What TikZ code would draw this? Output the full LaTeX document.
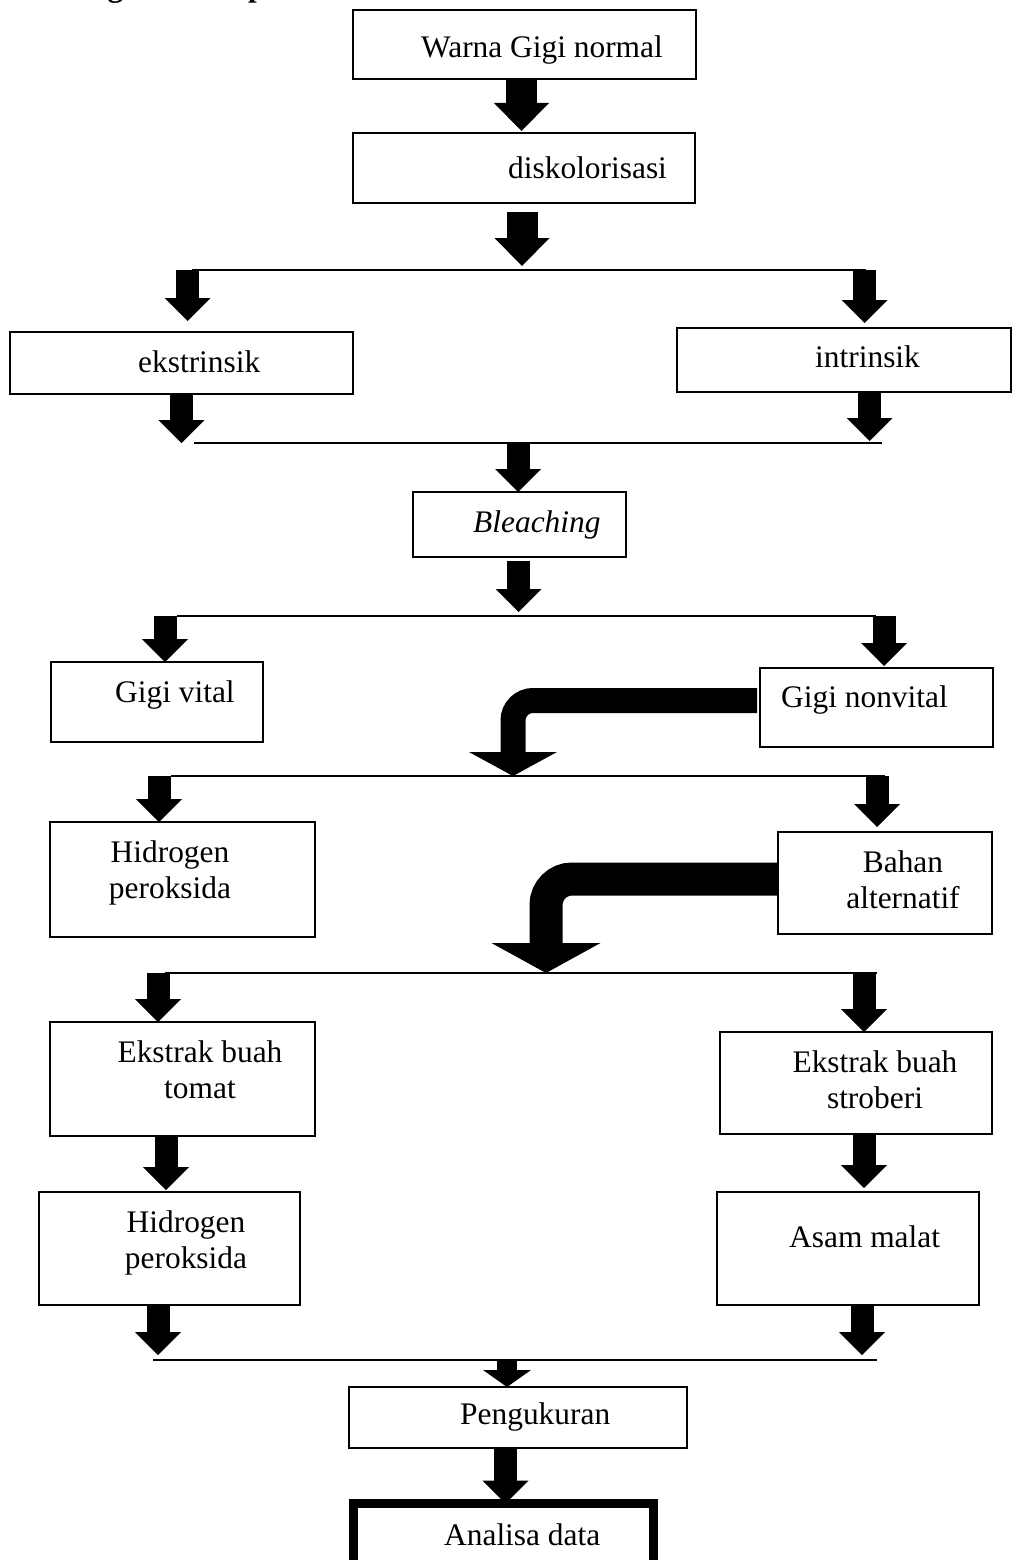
\documentclass[tikz,border=0pt]{standalone}
\usepackage{fontspec}
\setmainfont{Liberation Serif}
\usetikzlibrary{arrows.meta}

\begin{document}
\begin{tikzpicture}[
    x=1pt, y=-1pt,
    box/.style={rectangle, draw, line width=2pt, anchor=north west, inner sep=0pt, outer sep=0pt},
    lbl/.style={inner sep=0pt, anchor=base west, font=\fontsize{31.4}{36}\selectfont},
    lbltwo/.style={lbl, anchor=north, align=center},
    bar/.style={line width=2pt},
    flow/.style={line width=23pt, -{Triangle[width=46pt, length=23pt, line width=0pt]}},
    bigflow/.style={line width=31pt, -{Triangle[width=55pt, length=28pt, line width=0pt]}},
    bendA/.style={line width=25pt, rounded corners=20pt, -{Triangle[width=88pt, length=24pt, line width=0pt]}},
    bendB/.style={line width=33pt, rounded corners=26pt, -{Triangle[width=109pt, length=30pt, line width=0pt]}}
]

\path[use as bounding box, fill=white] (0,0) rectangle (1013,1560);

% Judul (terpotong di tepi atas)
\node[lbl, font=\fontsize{31.4}{36}\selectfont\bfseries] (judul) at (22,-3.5) {Kerangka Konsep};

% Warna gigi
\node[box, minimum width=343pt, minimum height=69pt] (warna) at (353,10) {};
\node[lbl] (warnaT) at (421,58) {Warna Gigi normal};

% Diskolorisasi
\node[box, minimum width=342pt, minimum height=70pt] (disko) at (353,133) {};
\node[lbl] (diskoT) at (508,178) {diskolorisasi};

% Ekstrinsik / intrinsik
\node[box, minimum width=343pt, minimum height=62pt] (ekstr) at (10,332) {};
\node[lbl] (ekstrT) at (138,372) {ekstrinsik};
\node[box, minimum width=334pt, minimum height=64pt] (intr) at (677,328) {};
\node[lbl] (intrT) at (815,367) {intrinsik};

% Bleaching
\node[box, minimum width=213pt, minimum height=65pt] (bleach) at (413,492) {};
\node[lbl] (bleachT) at (473,532) {\itshape Bleaching};

% Gigi vital / nonvital
\node[box, minimum width=212pt, minimum height=80pt] (vital) at (51,662) {};
\node[lbl] (vitalT) at (115,702) {Gigi vital};
\node[box, minimum width=233pt, minimum height=79pt] (nonvital) at (760,668) {};
\node[lbl] (nonvitalT) at (781,707) {Gigi nonvital};

% Hidrogen peroksida / bahan alternatif
\node[box, minimum width=265pt, minimum height=115pt] (hpA) at (50,822) {};
\node[lbltwo] (hpAT) at (170,840.5) {Hidrogen\\peroksida};
\node[box, minimum width=214pt, minimum height=102pt] (bahan) at (778,832) {};
\node[lbltwo] (bahanT) at (903,850.5) {Bahan\\alternatif};

% Ekstrak buah
\node[box, minimum width=265pt, minimum height=114pt] (tomat) at (50,1022) {};
\node[lbltwo] (tomatT) at (200,1040.5) {Ekstrak buah\\tomat};
\node[box, minimum width=272pt, minimum height=102pt] (stro) at (720,1032) {};
\node[lbltwo] (stroT) at (875,1050.5) {Ekstrak buah\\stroberi};

% Kandungan
\node[box, minimum width=261pt, minimum height=113pt] (hpB) at (39,1192) {};
\node[lbltwo] (hpBT) at (186,1210.5) {Hidrogen\\peroksida};
\node[box, minimum width=262pt, minimum height=113pt] (asam) at (717,1192) {};
\node[lbl] (asamT) at (789,1247) {Asam malat};

% Pengukuran dan analisa
\node[box, minimum width=338pt, minimum height=61pt] (ukur) at (349,1387) {};
\node[lbl] (ukurT) at (460,1424) {Pengukuran};
\node[box, line width=9pt, minimum width=300pt, minimum height=140pt] (analisa) at (353.5,1503.5) {};
\node[lbl] (analisaT) at (444,1545) {Analisa data};

% Garis percabangan
\coordinate (f1L) at (192,270);  \coordinate (f1R) at (866,270);
\coordinate (f2L) at (194,443);  \coordinate (f2R) at (882,443);
\coordinate (f3L) at (177,616);  \coordinate (f3R) at (876,616);
\coordinate (f4L) at (171,776);  \coordinate (f4R) at (885,776);
\coordinate (f5L) at (165,973);  \coordinate (f5R) at (877,973);
\coordinate (f6L) at (153,1360); \coordinate (f6R) at (877,1360);
\foreach \n in {1,...,6}
    \draw[bar] (f\n L) -- (f\n R);

% Titik panah
\coordinate (colTop) at (521.5,0);
\coordinate (inA) at (522,270);
\coordinate (toEkstr) at (187.5,270);
\coordinate (toIntr) at (864.5,270);
\coordinate (inEkstr) at (181.5,443);
\coordinate (inIntr) at (869.5,443);
\coordinate (toBleach) at (518,443);
\coordinate (inBleach) at (518.5,616);
\coordinate (toVital) at (165,616);
\coordinate (toNonvital) at (884,616);
\coordinate (inNonvital) at (513,776);
\coordinate (toHpA) at (159,776);
\coordinate (toBahan) at (877,776);
\coordinate (inBahan) at (546,973);
\coordinate (toTomat) at (158,973);
\coordinate (toStro) at (864,973);
\coordinate (colLeft) at (166,0);
\coordinate (colRight) at (864,0);
\coordinate (inHpB) at (158,1360);
\coordinate (inAsam) at (862,1360);
\coordinate (toUkur) at (507,1360);
\coordinate (colBottom) at (505.5,0);

% Panah
\draw[bigflow, shorten >=2pt] (warna.south -| colTop) -- (disko.north -| colTop);
\draw[bigflow, shorten <=9pt, shorten >=4pt] (disko.south -| inA) -- (inA);
\draw[flow, shorten >=11pt] (toEkstr) -- (ekstr.north -| toEkstr);
\draw[flow, shorten >=5pt] (toIntr) -- (intr.north -| toIntr);
\draw[flow] (ekstr.south -| inEkstr) -- (inEkstr);
\draw[flow, shorten >=2pt] (intr.south -| inIntr) -- (inIntr);
\draw[flow] (toBleach) -- (bleach.north -| toBleach);
\draw[flow, shorten <=4pt, shorten >=4pt] (bleach.south -| inBleach) -- (inBleach);
\draw[flow] (toVital) -- (vital.north -| toVital);
\draw[flow, shorten >=2pt] (toNonvital) -- (nonvital.north -| toNonvital);
\draw[bendA] ([xshift=-3pt, yshift=7pt]nonvital.west) -| (inNonvital);
\draw[flow] (toHpA) -- (hpA.north -| toHpA);
\draw[flow, shorten >=5pt] (toBahan) -- (bahan.north -| toBahan);
\draw[bendB] ([xshift=-1pt, yshift=4pt]bahan.west) -| (inBahan);
\draw[flow] (toTomat) -- (tomat.north -| toTomat);
\draw[flow] (toStro) -- (stro.north -| toStro);
\draw[flow, shorten >=2pt] (tomat.south -| colLeft) -- (hpB.north -| colLeft);
\draw[flow, shorten >=4pt] (stro.south -| colRight) -- (asam.north -| colRight);
\draw[flow, shorten >=5pt] (hpB.south -| inHpB) -- (inHpB);
\draw[flow, shorten >=5pt] (asam.south -| inAsam) -- (inAsam);
\draw[line width=20pt, -{Triangle[width=48pt, length=17pt, line width=0pt]}] (toUkur) -- (ukur.north -| toUkur);
\draw[flow] (ukur.south -| colBottom) -- (analisa.north -| colBottom);

\end{tikzpicture}
\end{document}
